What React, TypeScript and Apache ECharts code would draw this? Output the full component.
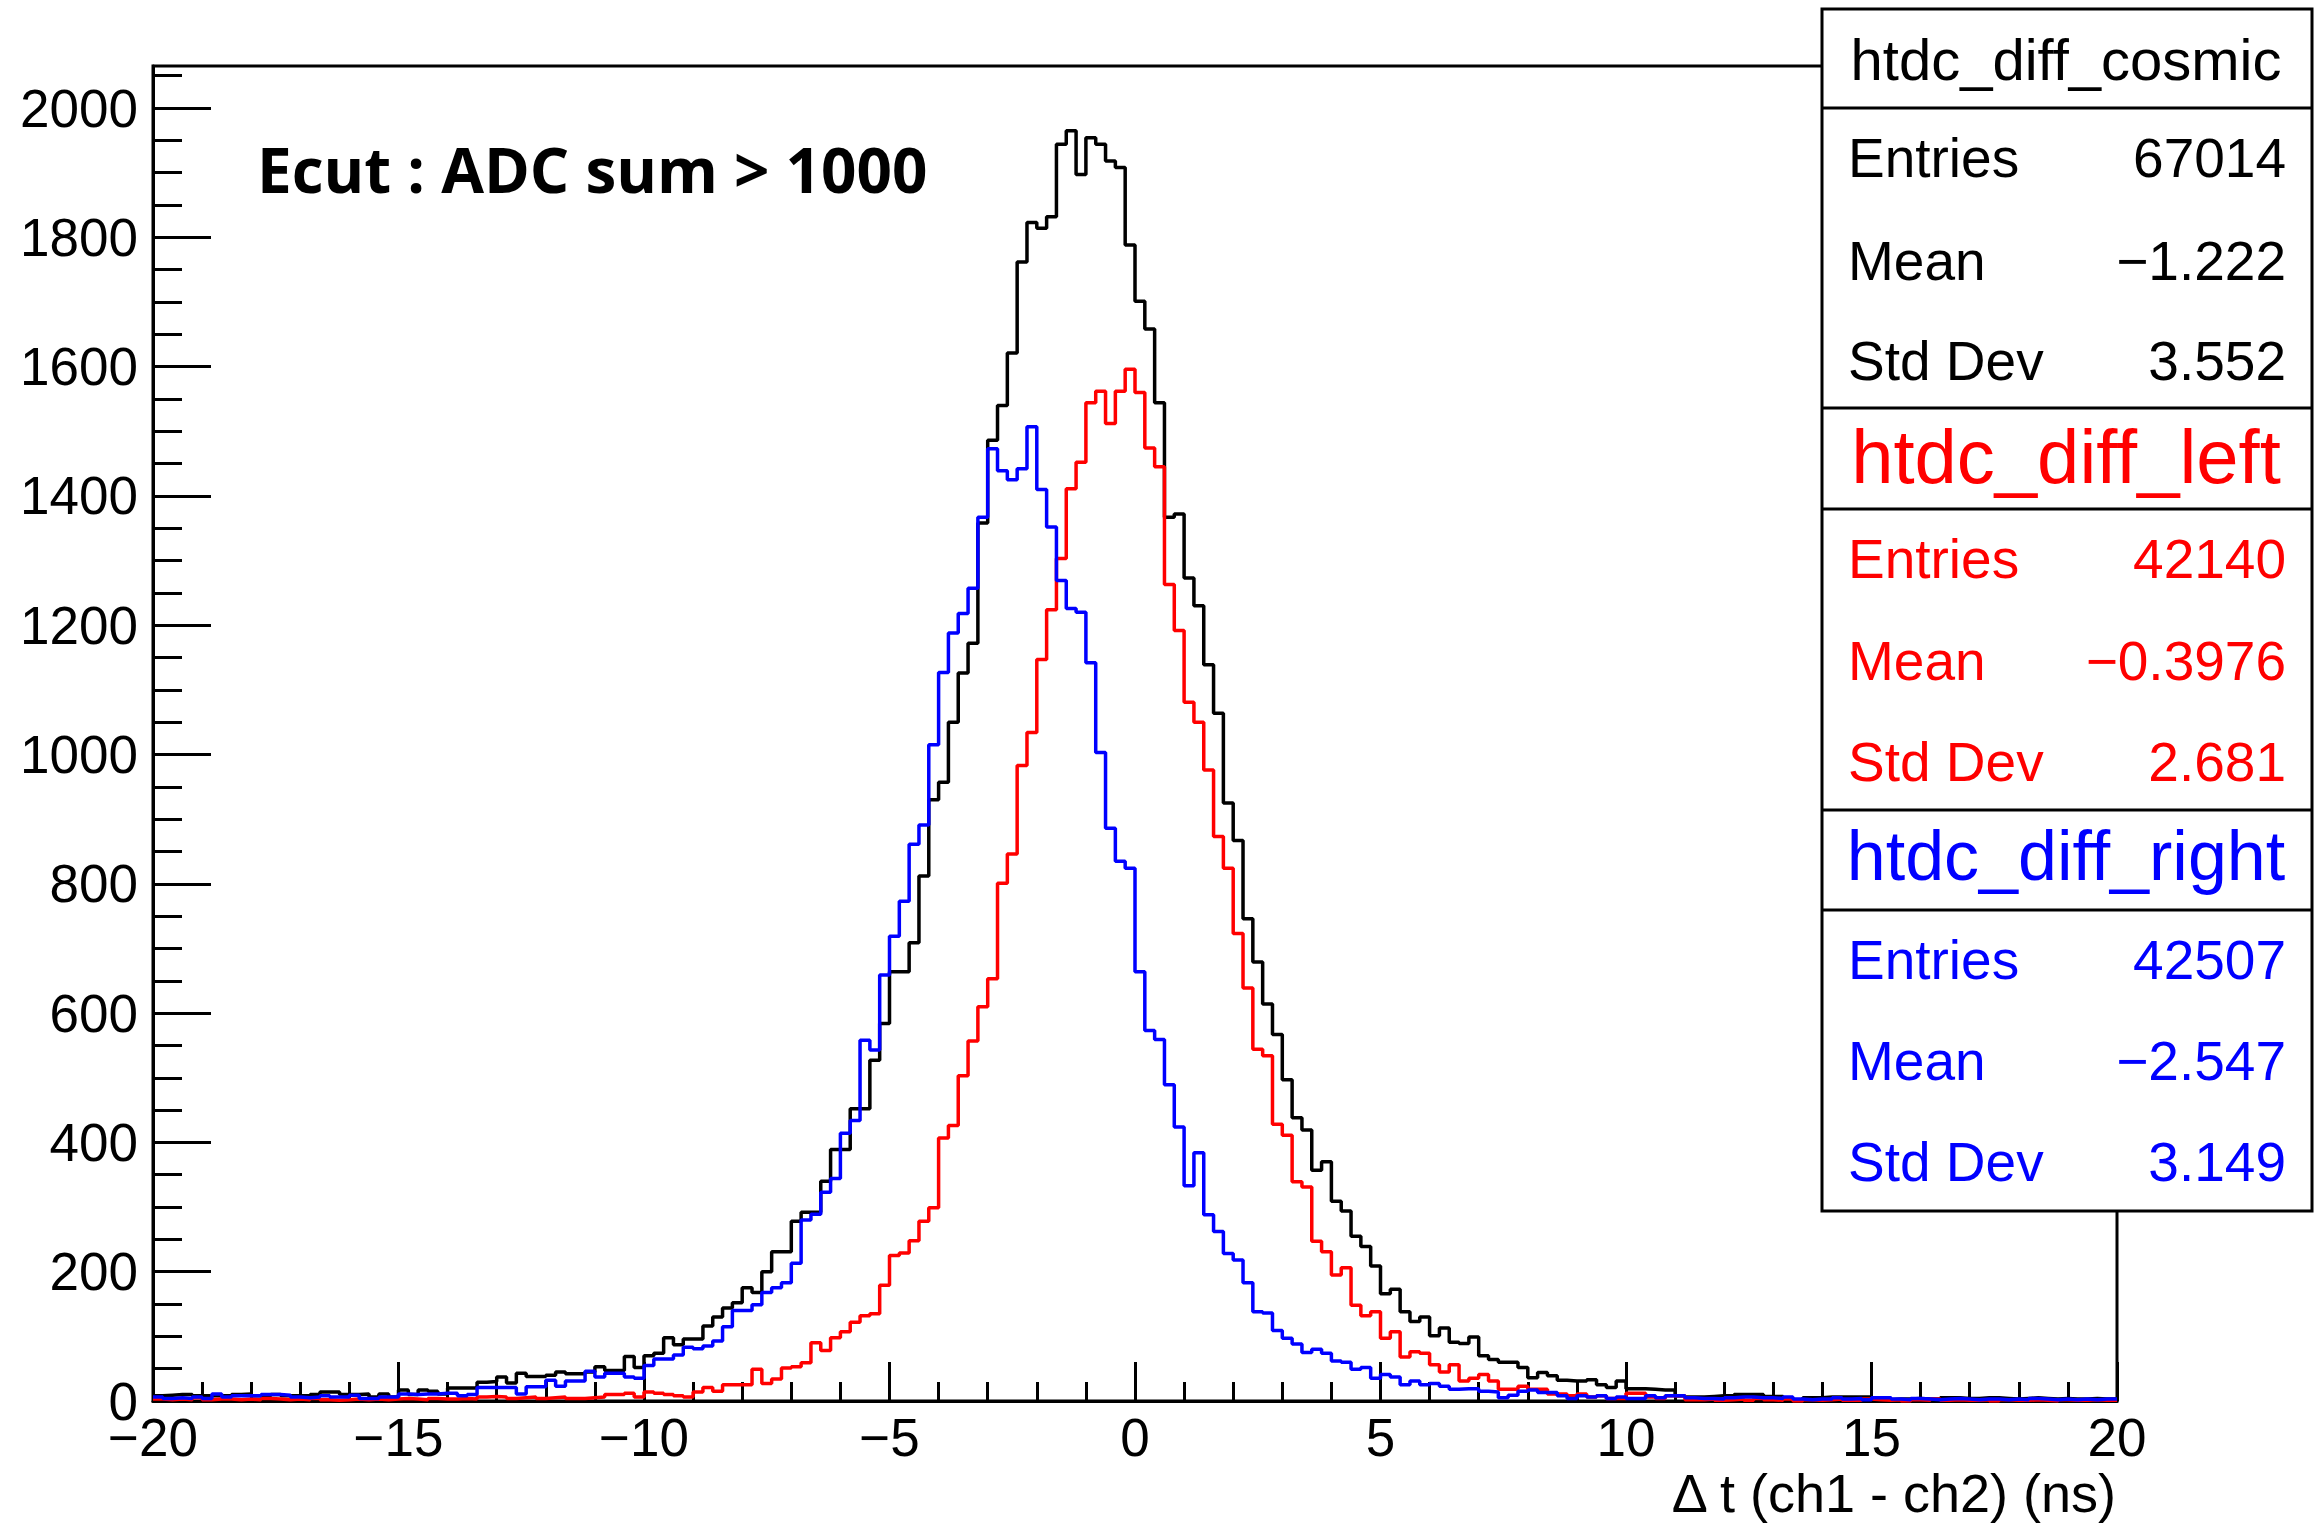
import React, { useEffect, useRef } from "react";
import * as echarts from "echarts";

// Histogram definition: 200 bins of 0.2 ns from -20 to 20 ns
const X_MIN = -20;
const X_MAX = 20;
const BIN_WIDTH = 0.2;
const Y_MAX = 2065;

const xTickLabels = [-20, -15, -10, -5, 0, 5, 10, 15, 20];
const yTickLabels = [0, 200, 400, 600, 800, 1000, 1200, 1400, 1600, 1800, 2000];

// htdc_diff_cosmic (black)
const cosmicCounts = [
  8, 9, 10, 10, 8, 8, 8, 8, 10, 11,
  8, 8, 10, 8, 8, 8, 10, 14, 14, 10,
  10, 11, 6, 11, 6, 17, 10, 17, 15, 11,
  20, 20, 20, 29, 30, 37, 28, 43, 38, 38,
  40, 45, 42, 42, 45, 53, 47, 47, 69, 52,
  70, 74, 98, 87, 96, 96, 116, 130, 144, 152,
  175, 168, 200, 231, 231, 278, 292, 292, 340, 389,
  389, 452, 452, 527, 584, 664, 664, 709, 812, 930,
  957, 1050, 1126, 1172, 1358, 1486, 1540, 1621, 1762, 1823,
  1814, 1832, 1944, 1965, 1897, 1954, 1944, 1918, 1908, 1788,
  1701, 1658, 1544, 1367, 1372, 1273, 1230, 1139, 1064, 925,
  867, 746, 679, 614, 567, 497, 438, 419, 357, 370,
  309, 294, 255, 239, 209, 166, 173, 138, 123, 130,
  101, 113, 91, 89, 99, 70, 64, 60, 60, 52,
  36, 44, 39, 32, 31, 31, 33, 25, 21, 31,
  19, 19, 18, 17, 17, 8, 6, 6, 7, 8,
  8, 10, 10, 10, 7, 7, 2, 2, 5, 5,
  6, 6, 6, 6, 6, 2, 2, 3, 3, 4,
  3, 3, 5, 5, 4, 4, 5, 5, 4, 3,
  4, 5, 4, 3, 4, 3, 3, 4, 3, 3,
];

// htdc_diff_left (red)
const leftCounts = [
  3, 2, 3, 2, 5, 2, 3, 3, 2, 3,
  2, 4, 3, 2, 3, 2, 4, 2, 1, 2,
  3, 2, 3, 2, 3, 4, 3, 2, 4, 3,
  3, 4, 3, 6, 7, 6, 4, 5, 6, 4,
  5, 6, 4, 4, 5, 6, 10, 10, 12, 6,
  14, 12, 10, 8, 6, 14, 21, 15, 25, 25,
  25, 49, 27, 34, 51, 53, 59, 90, 78, 98,
  107, 122, 132, 135, 179, 225, 229, 248, 278, 299,
  407, 426, 503, 557, 610, 653, 801, 846, 983, 1034,
  1147, 1224, 1303, 1411, 1452, 1544, 1562, 1512, 1562, 1596,
  1560, 1474, 1445, 1263, 1192, 1081, 1050, 976, 873, 824,
  723, 639, 544, 534, 428, 411, 339, 331, 247, 231,
  195, 206, 148, 132, 138, 97, 107, 68, 76, 74,
  56, 45, 56, 31, 35, 41, 31, 18, 18, 23,
  18, 18, 11, 11, 8, 11, 6, 8, 4, 4,
  12, 12, 6, 4, 8, 8, 2, 2, 3, 1,
  2, 3, 1, 4, 2, 1, 3, 0, 2, 1,
  2, 3, 1, 1, 3, 2, 1, 2, 0, 2,
  1, 3, 1, 2, 1, 1, 2, 0, 2, 1,
  1, 2, 1, 0, 2, 1, 1, 2, 1, 1,
];

// htdc_diff_right (blue)
const rightCounts = [
  6, 4, 5, 4, 6, 4, 11, 6, 8, 8,
  8, 10, 10, 9, 6, 5, 6, 8, 6, 6,
  9, 4, 4, 6, 6, 11, 10, 11, 11, 12,
  12, 8, 10, 21, 21, 21, 21, 11, 22, 22,
  32, 23, 31, 31, 46, 37, 43, 43, 37, 35,
  55, 65, 65, 71, 83, 81, 85, 93, 115, 140,
  140, 149, 168, 175, 183, 213, 280, 289, 323, 344,
  414, 434, 558, 543, 659, 719, 773, 861, 891, 1015,
  1127, 1188, 1218, 1257, 1367, 1473, 1439, 1425, 1442, 1507,
  1410, 1352, 1269, 1226, 1220, 1142, 1003, 886, 835, 824,
  664, 573, 559, 489, 424, 333, 384, 288, 262, 228,
  218, 183, 138, 136, 109, 97, 88, 75, 80, 74,
  62, 60, 49, 52, 35, 41, 37, 25, 31, 25,
  27, 23, 18, 19, 19, 15, 14, 5, 9, 15,
  17, 13, 13, 8, 4, 8, 6, 8, 4, 6,
  4, 4, 8, 5, 8, 8, 5, 4, 4, 3,
  5, 6, 6, 5, 5, 4, 6, 3, 2, 3,
  3, 5, 3, 4, 2, 5, 5, 3, 2, 4,
  3, 2, 3, 4, 3, 2, 3, 3, 2, 3,
  2, 4, 3, 2, 3, 2, 3, 2, 3, 3,
];

const statsCosmic = { name: "htdc_diff_cosmic", entries: "67014", mean: "\u22121.222", std: "3.552" };
const statsLeft = { name: "htdc_diff_left", entries: "42140", mean: "\u22120.3976", std: "2.681" };
const statsRight = { name: "htdc_diff_right", entries: "42507", mean: "\u22122.547", std: "3.149" };

const FONT = '"Liberation Sans", Arial, Helvetica, sans-serif';

function toSteps(counts: number[]): number[][] {
  const pts = counts.map((c, k) => [X_MIN + k * BIN_WIDTH, c]);
  pts.push([X_MAX, counts[counts.length - 1]]);
  return pts;
}

function fmtNum(v: number): string {
  const s = String(Math.round(v));
  return s.replace("-", "\u2212");
}

function statsTexts(st: any, color: string, titleY: number, titleSize: number, rowYs: number[]) {
  const els: any[] = [];
  els.push({
    type: "text",
    z: 110,
    style: {
      text: st.name,
      x: 2066,
      y: titleY,
      fill: color,
      font: `${titleSize}px ${FONT}`,
      align: "center",
      verticalAlign: "middle",
      textAlign: "center",
      textVerticalAlign: "middle",
    },
  });
  const labels = ["Entries", "Mean", "Std Dev"];
  const vals = [st.entries, st.mean, st.std];
  for (let i = 0; i < 3; i++) {
    els.push({
      type: "text",
      z: 110,
      style: {
        text: labels[i],
        x: 1848,
        y: rowYs[i],
        fill: color,
        font: `55px ${FONT}`,
        align: "left",
        verticalAlign: "middle",
        textAlign: "left",
        textVerticalAlign: "middle",
      },
    });
    els.push({
      type: "text",
      z: 110,
      style: {
        text: vals[i],
        x: 2286,
        y: rowYs[i],
        fill: color,
        font: `55px ${FONT}`,
        align: "right",
        verticalAlign: "middle",
        textAlign: "right",
        textVerticalAlign: "middle",
      },
    });
  }
  return els;
}

export default function App() {
  const ref = useRef<HTMLDivElement>(null);

  useEffect(() => {
    if (!ref.current) return;
    const chart = echarts.init(ref.current, undefined, { renderer: "svg" });

    const majorY = yTickLabels;
    const minorY: number[] = [];
    for (let v = 50; v <= Y_MAX; v += 50) if (v % 200 !== 0) minorY.push(v);

    const boxLeft = 1822;
    const boxRight = 2312;
    const sepYs = [108, 408, 509, 810, 910];

    const graphic: any[] = [
      {
        type: "text",
        z: 100,
        style: {
          text: "Ecut : ADC sum > 1000",
          x: 257,
          y: 169,
          fill: "#000",
          font: 'bold 62px "Open Sans", sans-serif',
          align: "left",
          verticalAlign: "middle",
          textAlign: "left",
          textVerticalAlign: "middle",
        },
      },
      {
        type: "text",
        z: 100,
        style: {
          text: "\u0394 t (ch1 - ch2) (ns)",
          x: 2116,
          y: 1493,
          fill: "#000",
          font: `54px ${FONT}`,
          align: "right",
          verticalAlign: "middle",
          textAlign: "right",
          textVerticalAlign: "middle",
        },
      },
      {
        type: "rect",
        z: 105,
        shape: { x: boxLeft, y: 9, width: boxRight - boxLeft, height: 1202 },
        style: { fill: "#fff", stroke: "#000", lineWidth: 3 },
      },
      ...sepYs.map((y) => ({
        type: "line",
        z: 106,
        shape: { x1: boxLeft, y1: y, x2: boxRight, y2: y },
        style: { stroke: "#000", lineWidth: 3 },
      })),
      ...statsTexts(statsCosmic, "#000", 59, 58, [158, 261, 361]),
      ...statsTexts(statsLeft, "#ff0000", 456, 76, [559, 661, 762]),
      ...statsTexts(statsRight, "#0000ff", 856, 70, [960, 1061, 1162]),
    ];

    const option: any = {
      animation: false,
      backgroundColor: "#fff",
      grid: {
        left: 153,
        top: 66,
        width: 1964,
        height: 1335,
        show: true,
        borderColor: "#000",
        borderWidth: 3,
        backgroundColor: "transparent",
      },
      xAxis: {
        type: "value",
        min: X_MIN,
        max: X_MAX,
        interval: 5,
        axisLine: { show: true, onZero: false, lineStyle: { color: "#000", width: 3 } },
        axisTick: { show: true, inside: true, length: 39, lineStyle: { color: "#000", width: 3 } },
        minorTick: { show: true, splitNumber: 5, length: 19, lineStyle: { color: "#000", width: 3 } },
        splitLine: { show: false },
        minorSplitLine: { show: false },
        axisLabel: {
          show: true,
          margin: 10,
          color: "#000",
          fontSize: 53,
          fontFamily: FONT,
          formatter: (v: number) => (xTickLabels.indexOf(v) >= 0 ? fmtNum(v) : ""),
        },
      },
      yAxis: [
        {
          type: "value",
          min: 0,
          max: Y_MAX,
          position: "left",
          axisLine: { show: true, onZero: false, lineStyle: { color: "#000", width: 3 } },
          axisTick: {
            show: true,
            inside: true,
            length: 58,
            customValues: majorY,
            lineStyle: { color: "#000", width: 3 },
          },
          splitLine: { show: false },
          axisLabel: {
            show: true,
            margin: 15,
            color: "#000",
            fontSize: 53,
            fontFamily: FONT,
            customValues: majorY,
            formatter: (v: number) => fmtNum(v),
          },
        },
        {
          type: "value",
          min: 0,
          max: Y_MAX,
          position: "left",
          offset: 0,
          axisLine: { show: false, onZero: false },
          axisTick: {
            show: true,
            inside: true,
            length: 29,
            customValues: minorY,
            lineStyle: { color: "#000", width: 3 },
          },
          splitLine: { show: false },
          axisLabel: { show: false },
        },
      ],
      series: [
        { name: statsCosmic.name, color: "#000000", data: toSteps(cosmicCounts) },
        { name: statsLeft.name, color: "#ff0000", data: toSteps(leftCounts) },
        { name: statsRight.name, color: "#0000ff", data: toSteps(rightCounts) },
      ].map((s) => ({
        type: "line",
        name: s.name,
        step: "end",
        showSymbol: false,
        symbol: "none",
        xAxisIndex: 0,
        yAxisIndex: 0,
        data: s.data,
        lineStyle: { color: s.color, width: 3.5 },
        itemStyle: { color: s.color },
        clip: true,
        silent: true,
      })),
      graphic,
    };

    chart.setOption(option);
    return () => chart.dispose();
  }, []);

  return (
    <div
      ref={ref}
      style={{ position: "fixed", left: 0, top: 0, width: 2319, height: 1524, background: "#fff" }}
    />
  );
}
